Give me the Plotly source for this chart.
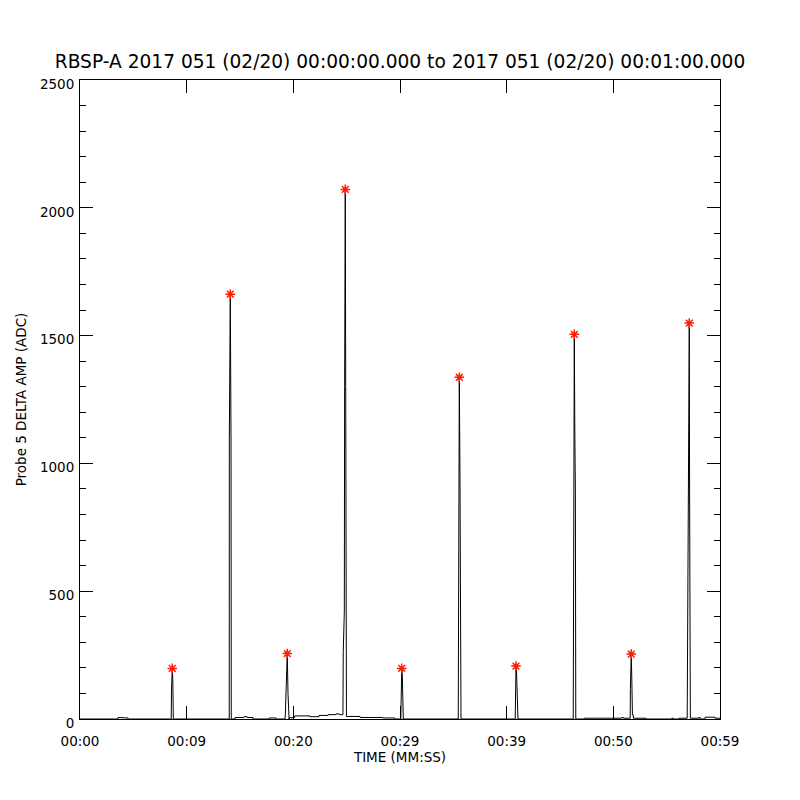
import plotly.graph_objects as go

# ---- data (seconds after 00:00:00, amplitude in ADC) ----
time_s = [
    0.0, 3.55, 3.56, 4.03, 4.04, 4.50, 4.51,
    8.55, 8.58, 8.65, 8.70, 8.75,
    13.99, 14.00, 14.09, 14.16, 14.18,
    14.53, 14.54, 15.37, 15.38, 15.66, 15.67, 16.22, 16.23,
    17.72, 17.73, 18.37, 18.38,
    19.22, 19.25, 19.34, 19.43, 19.50, 19.54,
    19.60, 19.61, 20.10, 20.11, 21.56, 21.57, 22.40, 22.41, 23.25, 23.26,
    24.00, 24.01, 24.30, 24.31, 24.65,
    24.68, 24.78, 24.81, 24.87, 24.91, 24.94, 24.98,
    26.25, 26.26, 28.40, 28.41, 29.50, 29.51,
    30.075, 30.09, 30.16, 30.21, 30.25, 30.31,
    35.46, 35.475, 35.56, 35.625, 35.68, 35.72,
    40.80, 40.82, 40.875, 40.93, 40.99, 41.02, 41.06,
    46.24, 46.26, 46.34, 46.39, 46.44, 46.48,
    47.25, 47.26, 50.78, 50.79, 50.93, 50.94, 51.37,
    51.58, 51.60, 51.68, 51.74, 51.79, 51.87, 51.88,
    53.06, 53.07, 55.47, 55.48, 55.62, 55.63, 56.16, 56.17,
    56.925, 56.94, 57.04, 57.075, 57.12, 57.15, 57.19, 57.22,
    58.00, 58.01, 58.125, 58.13, 58.59, 58.60, 59.53, 59.54, 60.0,
]
amp_adc = [
    0, 0, 6, 6, 4, 4, 0,
    0, 113, 198, 155, 0,
    0, 1095, 1662, 1080, 0,
    0, 6, 6, 9, 9, 6, 6, 0,
    0, 4, 4, 0,
    0, 16, 143, 256, 99, 0,
    0, 5, 5, 12, 12, 9, 9, 14, 14, 17,
    17, 20, 20, 17, 17,
    263, 420, 1300, 2072, 1300, 420, 10,
    10, 6, 6, 4, 4, 0,
    0, 77, 198, 179, 77, 0,
    0, 160, 1337, 927, 259, 0,
    0, 110, 207, 180, 110, 5, 0,
    0, 896, 1505, 1119, 896, 0,
    0, 3, 3, 6, 6, 3, 3,
    3, 120, 254, 142, 16, 16, 3,
    3, 0, 0, 3, 3, 0, 0, 3,
    3, 121, 455, 896, 1549, 896, 455, 3,
    3, 6, 6, 0, 0, 7, 7, 3, 3,
]

peak_time_s = [8.65, 14.09, 19.43, 24.87, 30.16, 35.56, 40.875, 46.34, 51.68, 57.12]
peak_amp_adc = [198, 1662, 256, 2072, 198, 1337, 207, 1505, 254, 1549]

x_tick_vals = [0, 10, 20, 30, 40, 50, 60]
x_tick_text = ["00:00", "00:09", "00:20", "00:29", "00:39", "00:50", "00:59"]
y_tick_vals = [0, 500, 1000, 1500, 2000, 2500]
y_tick_text = ["0", "500", "1000", "1500", "2000", "2500"]

title_text = "RBSP-A 2017 051 (02/20) 00:00:00.000 to 2017 051 (02/20) 00:01:00.000"
x_title = "TIME (MM:SS)"
y_title = "Probe 5 DELTA AMP (ADC)"

FONT = "DejaVu Sans"

fig = go.Figure()
fig.add_trace(go.Scatter(
    x=time_s, y=amp_adc, mode="lines",
    line=dict(color="black", width=1), showlegend=False, hoverinfo="skip",
))
fig.add_trace(go.Scatter(
    x=peak_time_s, y=peak_amp_adc, mode="markers",
    marker=dict(symbol="asterisk-open", size=8, color="#ff1a00",
                line=dict(color="#ff1a00", width=1.5)),
    showlegend=False,
))

axis_common = dict(
    showgrid=False, zeroline=False, showline=True, linecolor="black", linewidth=1,
    mirror="ticks", ticks="inside", tickcolor="black", tickwidth=1, ticklen=13,
    tickfont=dict(family=FONT, size=13.5, color="black"),
)

fig.update_xaxes(
    range=[0, 60], tickmode="array", tickvals=x_tick_vals, ticktext=x_tick_text,
    ticklabelstandoff=10,
    title=dict(text=x_title, font=dict(family=FONT, size=13.5, color="black"), standoff=4),
    **axis_common,
)
fig.update_yaxes(
    range=[0, 2500], tickmode="array", tickvals=y_tick_vals, ticktext=y_tick_text,
    ticklabelstandoff=2, ticklabelshift=4,
    minor=dict(dtick=100, ticks="inside", ticklen=6, tickcolor="black", tickwidth=1, showgrid=False),
    title=dict(text=y_title, font=dict(family=FONT, size=13.5, color="black"), standoff=10),
    **axis_common,
)

fig.update_layout(
    width=800, height=800,
    margin=dict(l=80, r=80, t=80, b=81, autoexpand=False),
    paper_bgcolor="white", plot_bgcolor="white",
    title=dict(text=title_text, x=0.5, xanchor="center", y=1 - 61 / 800, yanchor="middle",
               yref="container", font=dict(family=FONT, size=18.6, color="black")),
)

fig.write_html("out.html", config={"displayModeBar": False},
               post_script="document.body.style.margin='0';")
